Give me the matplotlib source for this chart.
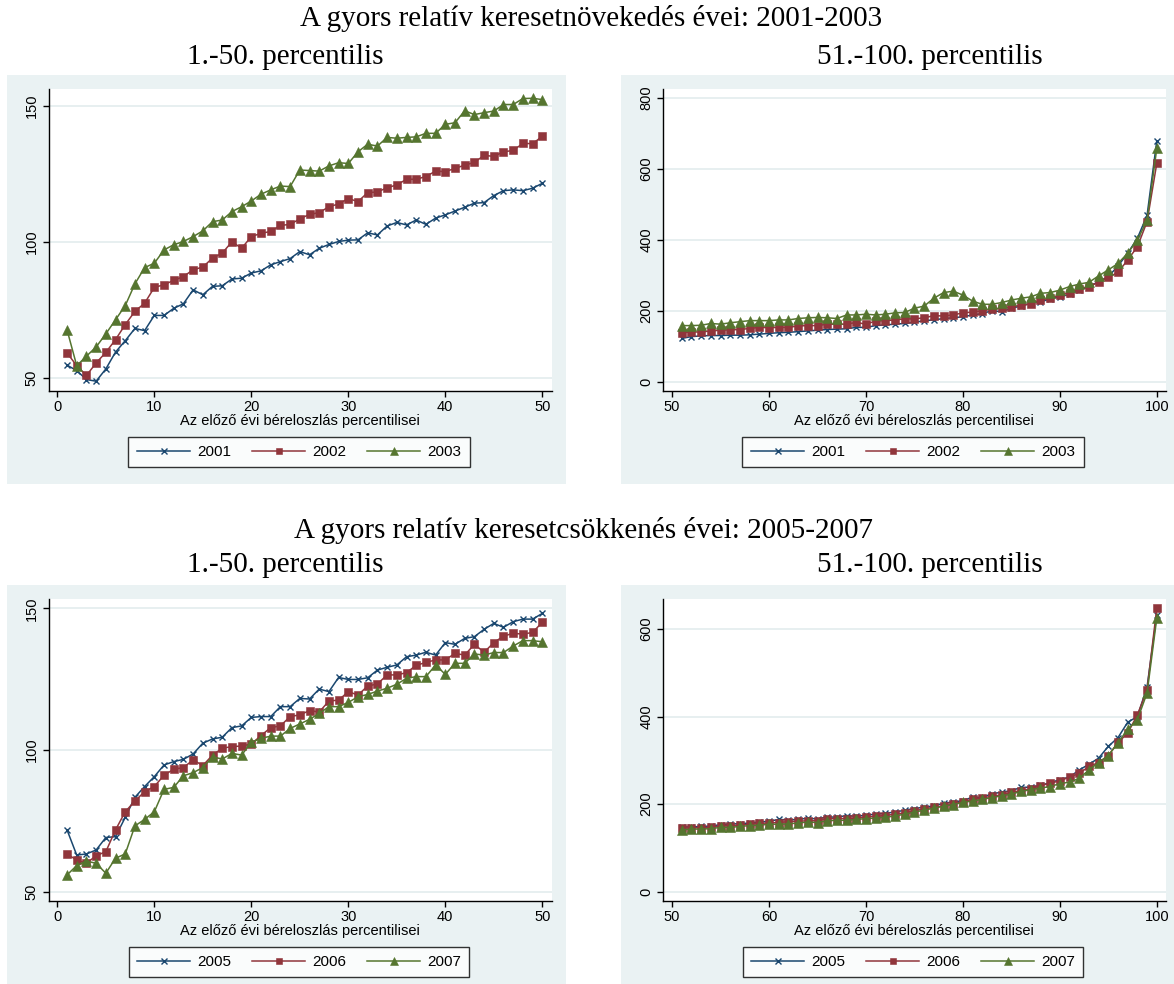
import numpy as np
import matplotlib
matplotlib.use("Agg")
import matplotlib.pyplot as plt
from matplotlib.patches import Rectangle

# percentilisek
pct_lo = np.arange(1, 51)
pct_hi = np.arange(51, 101)

# 2001-2003, 1.-50. percentilis
y2001_lo = [54.7, 52.7, 49.4, 48.8, 53.3, 59.5, 63.7, 68.2, 67.4, 73.0,
            73.0, 75.6, 77.3, 82.4, 80.6, 83.7, 83.9, 86.4, 86.7, 88.6,
            89.4, 91.6, 92.8, 93.9, 96.5, 95.3, 97.7, 99.1, 100.2, 100.7,
            100.8, 103.4, 102.6, 105.9, 107.2, 106.3, 108.1, 106.5, 108.8, 110.0,
            111.4, 112.8, 114.3, 114.5, 117.1, 118.9, 119.2, 118.9, 119.8, 121.6]
y2002_lo = [59.2, 54.5, 50.9, 55.5, 59.4, 64.1, 69.6, 74.5, 77.5, 83.3,
            84.3, 85.9, 87.3, 89.8, 90.8, 94.1, 95.9, 100.1, 97.7, 102.0,
            103.2, 103.9, 106.1, 106.5, 108.5, 110.2, 110.8, 113.0, 114.0, 116.0,
            114.9, 118.2, 118.4, 120.0, 121.0, 123.1, 123.1, 124.1, 126.1, 125.9,
            127.1, 128.3, 129.3, 131.9, 131.5, 133.2, 133.7, 136.3, 136.2, 138.9]
y2003_lo = [67.7, 54.5, 58.0, 61.4, 66.2, 71.4, 76.6, 84.6, 90.6, 92.2,
            97.1, 99.0, 100.2, 102.0, 104.1, 107.5, 108.1, 111.2, 113.0, 115.1,
            117.6, 119.2, 120.6, 120.4, 126.5, 126.3, 126.1, 128.0, 129.2, 128.9,
            133.2, 136.0, 135.3, 138.5, 138.2, 138.5, 138.7, 140.0, 140.0, 143.3,
            143.9, 148.3, 146.9, 147.6, 148.2, 150.6, 150.6, 152.8, 152.9, 152.4]

# 2001-2003, 51.-100. percentilis
y2001_hi = [122, 127, 129, 130, 130, 131, 131, 132, 134, 136,
            138, 139, 141, 143, 145, 147, 148, 149, 153, 153,
            158, 160, 162, 164, 167, 172, 174, 178, 180, 183,
            188, 192, 200, 197, 207, 213, 221, 225, 233, 239,
            246, 258, 268, 282, 296, 326, 362, 404, 469, 678]
y2002_hi = [138, 140, 140, 143, 145, 146, 147, 150, 153, 152,
            153, 153, 157, 158, 158, 162, 162, 162, 167, 162,
            171, 172, 174, 177, 177, 180, 186, 185, 188, 194,
            196, 200, 204, 207, 211, 215, 219, 230, 235, 243,
            251, 260, 268, 280, 294, 308, 343, 380, 451, 615]
y2003_hi = [158, 158, 159, 164, 162, 166, 169, 172, 172, 172,
            174, 174, 178, 180, 181, 180, 178, 188, 188, 190,
            188, 190, 194, 195, 207, 213, 235, 251, 255, 244,
            227, 218, 218, 223, 230, 235, 239, 249, 251, 258,
            268, 275, 280, 298, 315, 333, 362, 399, 455, 657]

# 2005-2007, 1.-50. percentilis
y2005_lo = [71.8, 62.9, 63.3, 64.7, 69.1, 69.4, 76.2, 83.3, 87.1, 90.6,
            94.7, 95.9, 96.7, 98.6, 102.4, 103.9, 104.5, 107.9, 108.5, 111.5,
            111.8, 111.8, 115.3, 115.3, 118.2, 118.0, 121.5, 120.6, 125.6, 124.9,
            124.9, 125.5, 128.2, 129.2, 130.0, 132.9, 133.5, 134.5, 133.5, 137.9,
            137.3, 139.4, 140.0, 142.6, 144.7, 143.3, 145.3, 146.2, 146.2, 148.2]
y2006_lo = [63.2, 61.2, 60.0, 62.7, 64.1, 71.8, 78.2, 82.0, 85.3, 87.1,
            91.1, 93.2, 93.8, 96.5, 94.5, 98.2, 100.6, 101.2, 101.4, 102.1,
            105.1, 107.9, 108.5, 111.8, 112.4, 113.9, 113.4, 117.3, 117.6, 120.6,
            119.4, 122.6, 123.3, 126.5, 126.5, 127.3, 129.9, 130.9, 131.8, 131.8,
            134.1, 133.5, 137.3, 134.5, 137.9, 140.2, 141.2, 140.9, 141.5, 145.1]
y2007_lo = [55.9, 59.2, 60.8, 60.0, 56.5, 61.8, 63.3, 73.2, 75.5, 78.2,
            86.1, 86.8, 90.9, 92.0, 93.8, 97.6, 96.8, 98.8, 98.2, 102.7,
            104.1, 104.9, 104.9, 107.6, 109.2, 110.8, 112.9, 115.3, 115.3, 116.8,
            118.8, 119.6, 120.8, 121.8, 123.2, 125.3, 125.9, 125.9, 130.0, 126.7,
            130.6, 130.6, 133.9, 133.5, 134.4, 134.4, 136.7, 138.6, 138.6, 138.2]

# 2005-2007, 51.-100. percentilis
y2005_hi = [148, 148, 149, 150, 153, 155, 155, 157, 159, 161,
            165, 164, 165, 168, 166, 171, 170, 174, 172, 175,
            177, 179, 182, 186, 190, 193, 196, 202, 205, 208,
            216, 215, 224, 227, 231, 238, 239, 243, 249, 256,
            262, 278, 291, 305, 332, 352, 387, 400, 468, 633]
y2006_hi = [145, 146, 146, 147, 150, 151, 152, 154, 156, 157,
            158, 160, 161, 162, 162, 167, 167, 167, 168, 171,
            172, 174, 177, 180, 185, 189, 193, 196, 200, 206,
            211, 214, 218, 221, 227, 231, 235, 242, 248, 253,
            262, 270, 286, 295, 311, 341, 362, 404, 461, 648]
y2007_hi = [141, 143, 143, 144, 147, 147, 149, 151, 152, 154,
            154, 155, 157, 159, 158, 162, 163, 163, 165, 167,
            168, 170, 173, 177, 182, 186, 191, 195, 199, 204,
            207, 211, 215, 219, 223, 229, 233, 237, 240, 247,
            250, 259, 278, 295, 311, 340, 371, 393, 454, 625]

title_top = "A gyors relatív keresetnövekedés évei: 2001-2003"
title_bot = "A gyors relatív keresetcsökkenés évei: 2005-2007"
sub_lo = "1.-50. percentilis"
sub_hi = "51.-100. percentilis"
xlab = "Az előző évi béreloszlás percentilisei"

navy = "#1A476F"
maroon = "#90353B"
green = "#55752F"
bg = "#EAF2F3"

W, H = 1174, 984
fig = plt.figure(figsize=(W / 100, H / 100), dpi=100)
fig.patch.set_facecolor("white")
plt.rcParams["font.family"] = ["Liberation Sans", "DejaVu Sans"]


def px_box(l, t, r, b):
    return [l / W, 1 - b / H, (r - l) / W, (b - t) / H]


# szurke hatter a panelek mogott
for (l, t, r, b) in [(7, 75, 566, 484), (621, 75, 1174, 484),
                     (7, 585, 566, 984), (621, 585, 1174, 984)]:
    fig.patches.append(Rectangle((l / W, 1 - b / H), (r - l) / W, (b - t) / H,
                                 transform=fig.transFigure, facecolor=bg,
                                 edgecolor="none", zorder=-5))


def panel(box, x, ys, years, xlim, ylim, yticks, xticks, leg_center):
    ax = fig.add_axes(px_box(*box))
    ax.set_facecolor("white")
    styles = [(navy, "x", 5), (maroon, "s", 5.6), (green, "^", 6.6)]
    handles = []
    for y, yr, (c, m, ms) in zip(ys, years, styles):
        h, = ax.plot(x, y, color=c, marker=m, markersize=ms, lw=1.1,
                     markeredgewidth=1.0 if m == "x" else 0.4,
                     markeredgecolor=c, markerfacecolor=c, label=yr)
        handles.append(h)
    ax.set_xlim(*xlim)
    ax.set_ylim(*ylim)
    ax.set_xticks(xticks)
    ax.set_yticks(yticks)
    ax.grid(axis="y", color="#E3ECEE", lw=1.2)
    ax.set_axisbelow(True)
    for s in ["top", "right"]:
        ax.spines[s].set_visible(False)
    for s in ["left", "bottom"]:
        ax.spines[s].set_linewidth(1.0)
    ax.tick_params(axis="both", direction="out", length=4, width=1,
                   labelsize=10.5, pad=3)
    for lab in ax.get_yticklabels():
        lab.set_rotation(90)
        lab.set_va("center")
    ax.set_xlabel(xlab, fontsize=10.5, labelpad=0)
    ax.legend(handles=handles, loc="center", ncol=3,
              bbox_to_anchor=(leg_center[0] / W, 1 - leg_center[1] / H),
              bbox_transform=fig.transFigure, frameon=True, fancybox=False,
              edgecolor="black", fontsize=11, handlelength=3.5,
              columnspacing=1.35, handletextpad=0.45, borderpad=0.55,
              numpoints=1, markerscale=0.85).get_frame().set_linewidth(1.0)
    return ax


panel((48.6, 89.3, 551.7, 390.7), pct_lo, [y2001_lo, y2002_lo, y2003_lo],
      ["2001", "2002", "2003"], (-0.9, 50.97), (45.3, 156.2),
      [50, 100, 150], [0, 10, 20, 30, 40, 50], (299, 452))
panel((663, 89.3, 1165.5, 390.7), pct_hi, [y2001_hi, y2002_hi, y2003_hi],
      ["2001", "2002", "2003"], (49.06, 100.9), (-25.4, 823.7),
      [0, 200, 400, 600, 800], [50, 60, 70, 80, 90, 100], (913, 452))
panel((48.6, 599, 551.7, 900.7), pct_lo, [y2005_lo, y2006_lo, y2007_lo],
      ["2005", "2006", "2007"], (-0.9, 50.97), (46.8, 153.3),
      [50, 100, 150], [0, 10, 20, 30, 40, 50], (299, 962))
panel((663, 599, 1165.5, 900.7), pct_hi, [y2005_hi, y2006_hi, y2007_hi],
      ["2005", "2006", "2007"], (49.06, 100.9), (-20.6, 668.6),
      [0, 200, 400, 600], [50, 60, 70, 80, 90, 100], (913, 962))

serif = ["Liberation Serif", "DejaVu Serif"]
fig.text(591 / W, 1 - 18 / H, title_top, ha="center", va="center",
         fontsize=21, family=serif)
fig.text(285 / W, 1 - 57 / H, sub_lo, ha="center", va="center",
         fontsize=21, family=serif)
fig.text(930 / W, 1 - 57 / H, sub_hi, ha="center", va="center",
         fontsize=21, family=serif)
fig.text(583 / W, 1 - 531 / H, title_bot, ha="center", va="center",
         fontsize=21, family=serif)
fig.text(285 / W, 1 - 565 / H, sub_lo, ha="center", va="center",
         fontsize=21, family=serif)
fig.text(930 / W, 1 - 565 / H, sub_hi, ha="center", va="center",
         fontsize=21, family=serif)

fig.savefig("out.png", dpi=100, facecolor="white")
